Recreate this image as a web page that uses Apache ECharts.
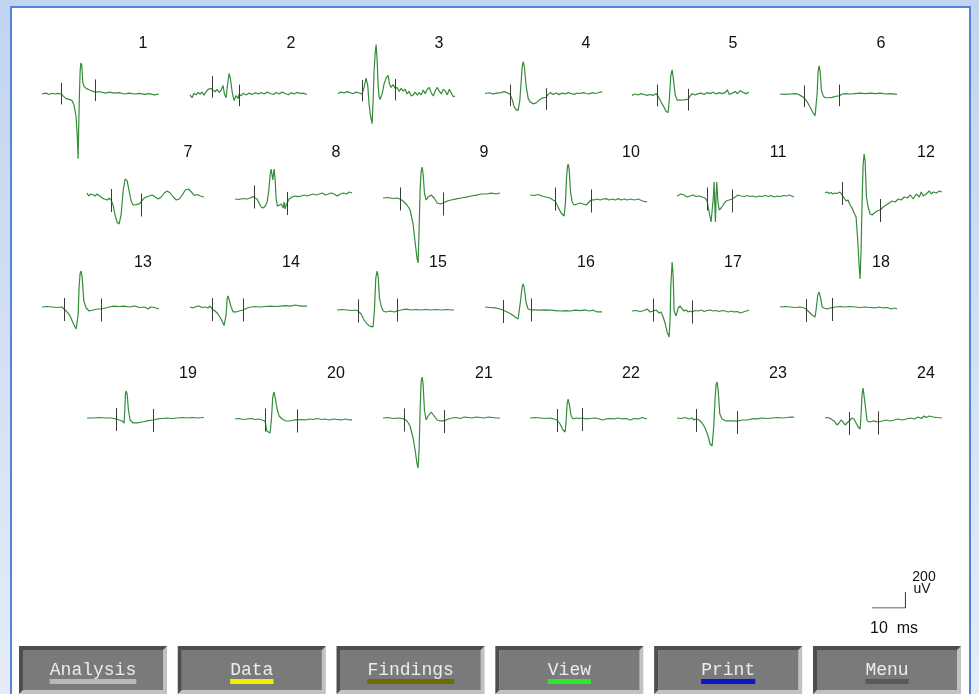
<!DOCTYPE html>
<html>
<head>
<meta charset="utf-8">
<title>MUP</title>
<script src="https://cdn.jsdelivr.net/npm/echarts@6/dist/echarts.min.js"></script>
<style>
html,body{margin:0;padding:0;background:#c6d7f0;overflow:hidden;}
#main{width:979px;height:694px;}
</style>
</head>
<body>
<div id="main"></div>
<script>
// motor unit potentials, [ms, uV]
var mu1 = [[0,0],[1.2,12],[2.1,-6],[3,10],[3.9,0],[4.8,8],[5.7,0],[6.3,-25],[7.2,-62],[8.4,-75],[9,-90],[9.6,-150],[10.2,-300],[10.6,-600],[10.8,-862],[11,-400],[11.2,0],[11.4,300],[11.6,412],[11.9,380],[12.2,150],[12.6,100],[13.2,75],[14.4,50],[15.9,25],[17.4,30],[18.9,12],[20.1,25],[21.6,12],[23.1,18],[24.6,0],[26.1,12],[27.6,0],[29.1,8],[30.6,-6],[32.1,6],[33.6,-12],[35,0]];
var mu2 = [[0,-12],[0.6,-50],[1.2,10],[1.8,-12],[2.4,20],[3,0],[3.6,25],[4.2,-15],[4.8,30],[5.4,62],[5.8,40],[6.3,75],[6.9,50],[7.5,30],[8.1,62],[8.7,20],[9.3,50],[9.9,112],[10.3,0],[10.8,-50],[11.3,150],[11.7,275],[12.1,200],[12.6,30],[13.2,-88],[13.8,-20],[14.4,-62],[14.7,0],[15.3,-25],[15.9,10],[16.8,-12],[17.7,12],[18.6,-6],[19.5,18],[20.4,0],[21.3,20],[22.2,0],[23.1,25],[24,6],[24.9,-6],[25.8,20],[26.7,0],[27.6,25],[28.5,6],[29.4,-10],[30.3,18],[31.2,0],[32.1,22],[33,6],[33.9,12],[35,-6]];
var mu3 = [[0,-6],[0.9,12],[1.8,0],[2.7,18],[3.6,6],[4.5,-10],[5.4,12],[6.3,0],[7.2,-12],[7.8,75],[8.4,200],[8.9,100],[9.3,-150],[9.7,-300],[10.2,-412],[10.5,-100],[10.8,300],[11.1,520],[11.4,650],[11.7,450],[12,100],[12.3,-50],[12.6,-88],[13.2,-12],[13.8,125],[14.4,200],[15,238],[15.4,120],[15.9,75],[16.5,112],[17.1,62],[17.7,75],[18.3,20],[18.9,62],[19.5,25],[20.1,50],[20.7,-12],[21.3,25],[21.9,-40],[22.5,-25],[23.1,12],[23.7,-30],[24.3,6],[24.9,-25],[25.5,40],[26.1,-10],[26.7,50],[27.3,75],[27.9,0],[28.5,-40],[29.1,30],[29.7,75],[30.3,25],[30.9,-12],[31.5,50],[32.1,25],[32.7,-25],[33.3,50],[33.9,0],[34.5,-50],[35,-40]];
var mu4 = [[0,0],[1.2,10],[2.4,-6],[3.6,6],[4.8,12],[5.7,25],[6.6,12],[7.5,-12],[8.1,-75],[8.7,-175],[9.3,-215],[9.9,-225],[10.4,-100],[10.8,150],[11.1,350],[11.4,425],[11.8,350],[12.3,100],[12.9,-62],[13.5,-112],[14.4,-138],[15.3,-125],[16.2,-88],[17.1,-62],[18.3,-50],[18.9,-12],[19.5,12],[20.4,-12],[21.3,6],[22.2,-15],[23.1,6],[24,-6],[24.9,12],[25.8,0],[26.7,-12],[27.6,6],[28.5,0],[29.4,12],[30.3,0],[31.2,-6],[32.1,12],[33,0],[33.9,10],[35,25]];
var mu5 = [[0,-12],[0.9,6],[1.8,-6],[2.7,12],[3.6,0],[4.5,-12],[5.4,0],[6.3,-12],[7.2,12],[7.8,-20],[8.7,-100],[9.6,-170],[10.2,-225],[10.8,-238],[11.2,-50],[11.6,250],[12,325],[12.4,200],[12.9,0],[13.5,-75],[14.4,-75],[15.6,-70],[16.8,-62],[17.4,-20],[18,12],[18.9,-6],[19.8,12],[20.7,18],[21.6,0],[22.5,25],[23.4,12],[24.3,30],[25.2,6],[26.1,25],[27,12],[27.9,25],[28.5,62],[29.1,0],[30,18],[30.9,40],[31.5,12],[32.4,50],[33.3,25],[34.2,12],[35,30]];
var mu6 = [[0,0],[1.5,-6],[3,0],[4.5,6],[5.4,0],[6.3,-25],[7.2,-50],[8.1,-100],[9,-175],[9.9,-250],[10.5,-288],[10.8,-275],[11.1,0],[11.4,300],[11.7,375],[12,300],[12.4,50],[12.9,-25],[13.5,-50],[14.4,-50],[15.6,-45],[16.8,-30],[17.7,-25],[18.6,0],[19.5,6],[21,0],[22.5,6],[24,12],[25.5,6],[27,12],[28.5,6],[30,12],[31.5,0],[33,6],[35,-6]];
var mu7 = [[0,25],[0.5,-12],[1.2,12],[1.8,0],[2.4,-12],[3,12],[3.6,-6],[4.2,-25],[5.1,-50],[6,-62],[6.6,-40],[7.2,-62],[7.8,-125],[8.4,-250],[9,-340],[9.6,-362],[10.2,-250],[10.8,50],[11.4,200],[11.7,212],[12,180],[12.6,50],[13.2,-75],[13.8,-125],[14.7,-120],[15.6,-112],[16.2,-88],[16.8,-50],[17.7,-25],[18.6,-12],[19.5,0],[20.4,-25],[21.3,-50],[22.2,-25],[23.1,25],[24,50],[24.9,25],[25.8,-25],[26.7,-62],[27.6,-50],[28.5,0],[29.4,62],[30.3,75],[31.2,40],[32.1,-6],[33,6],[33.9,-12],[35,-25]];
var mu8 = [[0,0],[1.2,-6],[2.4,6],[3.6,0],[4.5,12],[5.4,30],[6,12],[6.6,0],[7.2,-50],[7.8,-100],[8.4,-112],[9,-90],[9.6,-40],[10.1,100],[10.5,300],[10.8,375],[11.1,300],[11.3,237],[11.5,300],[11.7,375],[12,250],[12.3,0],[12.7,-90],[13.2,-100],[13.8,-62],[14.4,-112],[14.7,-40],[15,-125],[15.3,-75],[15.6,-50],[16.2,0],[17.1,25],[18,37],[18.9,30],[19.8,37],[20.7,50],[21.6,37],[22.5,50],[23.4,62],[24.3,50],[25.2,62],[26.1,75],[27,50],[27.9,62],[28.8,75],[29.7,62],[30.6,37],[31.5,62],[32.4,75],[33.3,62],[34.2,87],[35,75]];
var mu9 = [[0,0],[1.5,6],[3,-6],[4.2,0],[5.1,-12],[6,-37],[7.2,-87],[8.1,-150],[9,-325],[9.6,-550],[10.2,-760],[10.5,-812],[10.8,-400],[11.1,100],[11.4,330],[11.7,387],[12,300],[12.4,62],[12.9,-25],[13.5,12],[14.4,37],[15.3,0],[16.2,-62],[17.1,-75],[18,-62],[19.2,-37],[20.4,-25],[21.9,-12],[23.4,0],[24.9,12],[26.4,25],[27.9,37],[29.4,50],[30.9,50],[32.4,62],[33.9,50],[35,62]];
var mu10 = [[0,0],[1.2,-6],[2.4,6],[3.6,-12],[4.8,-25],[6,-37],[6.9,-62],[7.5,-75],[8.4,-150],[9.3,-225],[10.2,-262],[10.6,-100],[10.9,200],[11.2,350],[11.4,387],[11.7,330],[12.1,50],[12.6,-87],[13.2,-125],[14.1,-112],[15,-100],[15.9,-112],[16.8,-125],[17.7,-87],[18.3,-62],[19.2,-62],[20.1,-50],[21,-62],[21.9,-50],[22.8,-45],[23.7,-62],[24.6,-50],[25.5,-62],[26.4,-45],[27.3,-62],[28.2,-50],[29.1,-62],[30,-50],[31.2,-62],[32.4,-50],[33.6,-75],[35,-87]];
var mu11 = [[0,0],[1.2,25],[2.1,12],[3,-12],[3.9,0],[4.8,12],[5.7,-6],[6.6,0],[7.5,-12],[8.4,-25],[9,-62],[9.6,-200],[10.2,-325],[10.6,-325],[10.9,0],[11.1,175],[11.3,-100],[11.5,-325],[11.7,0],[11.9,175],[12.2,-50],[12.6,-175],[13.2,-150],[13.8,-112],[14.7,-62],[15.6,-50],[16.5,-37],[17.4,-12],[18.3,12],[19.2,0],[20.1,-6],[21,6],[21.9,-6],[22.8,0],[23.7,-12],[24.6,0],[25.5,-6],[26.4,6],[27.3,-6],[28.2,6],[29.1,-12],[30,0],[30.9,-6],[31.8,6],[32.7,0],[33.6,12],[35,-12]];
var mu12 = [[0,0],[0.6,12],[1.2,-6],[1.8,6],[2.4,-12],[3,0],[3.6,-6],[4.5,12],[5.1,-25],[5.7,-62],[6.3,-100],[6.9,-87],[7.5,-150],[8.1,-187],[8.7,-250],[9.3,-300],[9.8,-600],[10.2,-900],[10.5,-1075],[10.8,-700],[11.1,-100],[11.4,350],[11.7,487],[12,400],[12.4,-50],[12.9,-175],[13.5,-262],[14.1,-275],[14.7,-250],[15.6,-225],[16.5,-212],[17.4,-175],[18.3,-150],[19.2,-125],[20.1,-100],[21,-112],[21.9,-75],[22.8,-87],[23.7,-50],[24.6,-62],[25.5,-25],[26.4,-75],[27.3,-12],[28.2,-50],[28.8,12],[29.4,-37],[30.3,-12],[31.2,25],[31.8,-12],[32.4,12],[33.3,0],[34.2,25],[35,12]];
var mu13 = [[0,0],[1.5,6],[3,0],[4.5,-6],[6,0],[6.6,-25],[7.5,-62],[8.4,-112],[9.3,-200],[10.2,-275],[10.5,-288],[10.8,-100],[11.1,250],[11.4,420],[11.7,450],[12,380],[12.5,80],[13.2,-12],[14.1,-50],[15.3,-37],[16.5,-25],[17.7,-25],[18.9,-12],[20.1,0],[21.6,12],[23.1,6],[24.6,12],[26.1,0],[27.6,12],[29.1,-6],[30.6,0],[31.8,-25],[32.4,0],[33.6,-6],[35,-25]];
var mu14 = [[0,0],[0.9,-12],[1.8,6],[2.7,12],[3.6,-6],[4.5,0],[5.4,-12],[6,12],[6.6,-25],[7.5,-50],[8.4,-87],[9.3,-150],[10.2,-230],[10.5,-238],[10.8,-100],[11.1,100],[11.4,138],[11.8,125],[12.3,0],[12.9,-62],[13.8,-62],[14.7,-50],[15.9,-37],[17.1,-12],[18.3,0],[19.5,6],[21,0],[22.5,6],[24,12],[25.5,6],[27,12],[28.5,18],[30,12],[31.5,25],[33,12],[35,12]];
var mu15 = [[0,0],[1.5,6],[3,0],[4.5,-6],[5.7,0],[6.3,-12],[7.2,-50],[8.1,-125],[9,-175],[9.9,-205],[10.8,-212],[11.2,0],[11.6,400],[12,487],[12.3,420],[12.7,150],[13.2,50],[13.8,-12],[14.7,-25],[15.9,-12],[17.1,-25],[18,-12],[19.2,0],[20.7,12],[22.2,0],[23.7,6],[25.2,0],[26.7,6],[28.2,0],[29.7,6],[31.2,0],[32.7,6],[34.2,0],[35,0]];
var mu16 = [[0,0],[1.5,-6],[3,-12],[4.5,-25],[5.4,-37],[6.6,-62],[7.8,-87],[9,-125],[9.9,-150],[10.3,-125],[10.7,100],[11.1,250],[11.4,287],[11.7,250],[12.3,50],[12.9,-25],[13.8,-37],[15,-37],[16.5,-40],[18,-37],[19.5,-40],[21,-45],[22.5,-50],[24,-45],[25.5,-50],[27,-40],[28.5,-45],[30,-37],[31.2,-50],[32.4,-40],[33.6,-62],[35,-62]];
var mu17 = [[0,0],[1.2,6],[2.4,-6],[3.6,6],[4.5,25],[5.4,-12],[6.3,0],[7.2,12],[8.1,-25],[8.7,-12],[9.3,-75],[9.9,-150],[10.5,-262],[11.1,-325],[11.4,-100],[11.6,300],[12,612],[12.3,450],[12.6,0],[13.2,-62],[13.8,37],[14.4,62],[15,25],[15.6,0],[16.2,12],[16.8,-12],[17.4,0],[18,-12],[18.9,6],[19.8,0],[20.7,12],[21.6,-6],[22.5,6],[23.4,12],[24.3,0],[25.2,6],[26.1,-6],[27,6],[27.9,0],[28.8,-12],[29.7,0],[30.6,-12],[31.5,-6],[32.4,-25],[33.3,-12],[34.2,0],[35,12]];
var mu18 = [[0,0],[1.5,6],[3,0],[4.5,-6],[6,0],[6.9,-6],[7.8,-25],[8.7,-62],[9.6,-100],[10.5,-125],[10.9,0],[11.3,150],[11.7,187],[12.1,120],[12.6,0],[13.2,-12],[14.1,-25],[15,-12],[15.6,-12],[16.5,0],[18,6],[19.5,0],[21,6],[22.5,0],[24,-6],[25.5,0],[27,-6],[28.5,-12],[29.7,0],[30.9,-12],[32.1,-6],[33.3,-25],[34.2,-12],[35,-25]];
var mu19 = [[0,0],[1.8,0],[3.6,6],[5.4,0],[7.2,0],[8.7,-12],[9.6,-25],[10.5,-37],[11.1,-62],[11.3,100],[11.5,300],[11.7,337],[12,300],[12.4,100],[12.9,-25],[13.8,-62],[15,-62],[16.5,-50],[18,-37],[19.8,-25],[21,-12],[22.5,-6],[24,0],[25.5,-6],[27,0],[28.5,6],[30,0],[31.5,6],[33,0],[35,6]];
var mu20 = [[0,0],[1.2,6],[2.4,-6],[3.6,0],[4.8,6],[6,-6],[7.2,0],[8.1,-12],[9,-25],[9.5,-150],[10,-125],[10.5,-175],[10.9,0],[11.3,280],[11.7,337],[12.1,250],[12.6,125],[13.2,37],[14.1,0],[15.3,-25],[16.5,-25],[17.7,-12],[18.6,-12],[19.8,-6],[21,-12],[22.2,0],[23.4,-6],[24.6,6],[25.8,-6],[27,0],[28.2,-12],[29.4,0],[30.6,-6],[31.8,-12],[33,0],[34.2,-12],[35,-12]];
var mu21 = [[0,0],[1.5,6],[3,-6],[4.5,0],[6.3,-12],[7.2,-37],[8.1,-100],[9,-250],[9.6,-400],[10.2,-580],[10.5,-625],[10.8,-400],[11.1,100],[11.4,450],[11.7,512],[12,420],[12.4,100],[12.9,-25],[13.5,25],[14.4,75],[15.3,25],[16.2,-25],[17.1,-37],[18.3,-37],[19.5,-12],[20.7,0],[21.9,6],[23.1,-6],[24.3,12],[25.5,6],[26.7,0],[27.9,12],[29.1,6],[30.3,0],[31.5,12],[32.7,6],[33.9,0],[35,0]];
var mu22 = [[0,0],[1.5,6],[3,0],[4.5,-6],[6,0],[7.2,-12],[8.1,-25],[9,-75],[9.9,-150],[10.5,-175],[10.8,-50],[11.1,180],[11.4,237],[11.8,160],[12.3,25],[12.9,-12],[13.8,0],[14.7,-6],[15.6,0],[16.8,-12],[18,-6],[19.2,0],[20.4,-6],[21.6,-25],[22.8,-12],[24,-6],[25.2,-12],[26.4,0],[27.6,-12],[28.8,-6],[30,-25],[31.2,-6],[32.4,-12],[33.6,6],[35,-12]];
var mu23 = [[0,0],[1.2,-6],[2.4,6],[3.6,-12],[4.5,0],[5.1,-25],[5.7,-12],[6.6,-25],[7.5,-62],[8.4,-125],[9.3,-225],[9.9,-325],[10.5,-350],[11,-100],[11.4,250],[11.7,420],[12,450],[12.3,350],[12.8,50],[13.5,-12],[14.7,-37],[16.2,-37],[18,-40],[19.5,-25],[21,-25],[22.5,-12],[24,-12],[25.5,0],[27,-6],[28.5,0],[30,6],[31.5,0],[33,6],[34,12],[35,12]];
var mu24 = [[0,0],[0.9,6],[1.8,-12],[2.7,-37],[3.6,-87],[4.2,-62],[4.8,-25],[5.4,-50],[6,-87],[6.6,-62],[7.2,-37],[8.1,0],[8.7,-12],[9.3,-62],[9.9,-112],[10.5,-137],[10.8,50],[11.1,300],[11.4,375],[11.8,350],[12.2,100],[12.6,-37],[13.5,-50],[14.4,-37],[15.9,-50],[17.1,-37],[18.3,-25],[19.5,-37],[20.7,-25],[21.9,-12],[23.1,-25],[24.3,-12],[25.5,0],[26.7,-12],[27.9,12],[28.8,-6],[29.7,25],[30.3,6],[31.2,25],[32.4,12],[33.6,6],[35,0]];

// cursor markers per MUP: [ms, level uV]
var markers = [
    [[5.7,6],[15.9,50]], [[6.6,94],[14.7,-19]], [[7.2,31],[17.1,44]], [[7.5,-25],[18.3,-75]], [[7.5,-12],[16.8,-69]], [[7.2,-31],[17.7,-19]],
    [[7.2,-69],[16.2,-125]], [[5.7,25],[15.6,-56]], [[5.1,-12],[18,-75]], [[7.5,-50],[18.3,-75]], [[9,-37],[16.5,-62]], [[5.1,-6],[16.5,-219]],
    [[6.6,-31],[17.7,-37]], [[6.6,-31],[15.9,-37]], [[6.3,-12],[18,0]], [[5.4,-56],[13.8,-37]], [[6.3,12],[18,-12]], [[7.8,-44],[15.6,-31]],
    [[8.7,-19],[19.8,-31]], [[9,-12],[18.6,-25]], [[6.3,-25],[18.3,-44]], [[8.1,-31],[15.6,-19]], [[5.7,-31],[18,-56]], [[7.2,-69],[15.9,-62]]
];
var traces = [mu1,mu2,mu3,mu4,mu5,mu6,mu7,mu8,mu9,mu10,mu11,mu12,mu13,mu14,mu15,mu16,mu17,mu18,mu19,mu20,mu21,mu22,mu23,mu24];
var labels = ['1','2','3','4','5','6','7','8','9','10','11','12','13','14','15','16','17','18','19','20','21','22','23','24'];
var buttons = ['Analysis','Data','Findings','View','Print','Menu'];
var scaleMs = 10, scaleUv = 200;

// layout: left edge and baseline of each trace
var pos = [
    [42,88],[190,88],[338,86],[485,87],[632,89],[780,88],
    [87,195],[235,199],[383,198],[530,195],[677,196],[825,193],
    [42,307],[190,307],[337,310],[485,307],[632,311],[780,307],
    [87,418],[235,419],[383,418],[530,418],[677,418],[825,418]
];
var labelRowY = [44, 153, 263, 374];
var SPAN = 35, AMP = 1250, W = 117, H = 200, TICK = 144;
var btnBars = ['#b8b8b8','#f0f000','#6e6e00','#2ee62e','#0c18c8','#5a5a5a'];

var myChart = echarts.init(document.getElementById('main'));

var grids = [], xAxes = [], yAxes = [], series = [];
var graphics = [
    {type:'rect', z:-10, shape:{x:0,y:0,width:979,height:694},
        style:{fill:new echarts.graphic.LinearGradient(0,0,0,1,[{offset:0,color:'#c2d4ef'},{offset:1,color:'#e4ecf8'}])}},
    {type:'rect', z:-9, shape:{x:11,y:7,width:959,height:700}, style:{fill:'#ffffff', stroke:'#4f86dc', lineWidth:2}}
];

for (var i = 0; i < traces.length; i++) {
    grids.push({left: pos[i][0], top: pos[i][1] - H / 2, width: W, height: H});
    xAxes.push({type:'value', gridIndex:i, min:0, max:SPAN, show:false});
    yAxes.push({type:'value', gridIndex:i, min:-AMP, max:AMP, show:false});
    series.push({
        type:'line', xAxisIndex:i, yAxisIndex:i, data:traces[i],
        symbol:'none', clip:false,
        lineStyle:{color:'#348c3a', width:1.2},
        markLine:{
            silent:true, symbol:['none','none'], label:{show:false},
            lineStyle:{color:'#3a3a3a', width:1, type:'solid'},
            data: markers[i].map(function (m) {
                return [{coord:[m[0], m[1] - TICK]}, {coord:[m[0], m[1] + TICK]}];
            })
        }
    });
    graphics.push({type:'text', x: pos[i][0] + 101, y: labelRowY[Math.floor(i / 6)],
        style:{text:labels[i], font:'16px "Liberation Sans", Arial, sans-serif', fill:'#111',
            textAlign:'center', textVerticalAlign:'middle'}});
}

// scale bar
var n = traces.length;
grids.push({left:872, top:592, width: W * scaleMs / SPAN, height: H * scaleUv / (2 * AMP)});
xAxes.push({type:'value', gridIndex:n, min:0, max:scaleMs, show:false});
yAxes.push({type:'value', gridIndex:n, min:0, max:scaleUv, show:false});
series.push({type:'line', xAxisIndex:n, yAxisIndex:n, symbol:'none',
    data:[[0,0],[scaleMs,0],[scaleMs,scaleUv]], lineStyle:{color:'#333', width:1}});
graphics.push({type:'text', x:924, y:577, style:{text:String(scaleUv), font:'14px "Liberation Sans", Arial', fill:'#111', textAlign:'center', textVerticalAlign:'middle'}});
graphics.push({type:'text', x:922, y:589, style:{text:'uV', font:'14px "Liberation Sans", Arial', fill:'#111', textAlign:'center', textVerticalAlign:'middle'}});
graphics.push({type:'text', x:894, y:629, style:{text:scaleMs + '  ms', font:'16px "Liberation Sans", Arial', fill:'#111', textAlign:'center', textVerticalAlign:'middle'}});

// buttons
for (var b = 0; b < buttons.length; b++) {
    var bx = 19 + b * 158.8, by = 646, bw = 148, bh = 48, e = 4;
    graphics.push({type:'rect', z:-5, shape:{x:bx, y:by, width:bw, height:bh}, style:{fill:'#c2c2c2'}});
    graphics.push({type:'polygon', z:-4, shape:{points:[[bx,by],[bx+bw,by],[bx+bw-e,by+e],[bx+e,by+e],[bx+e,by+bh-e],[bx,by+bh]]}, style:{fill:'#4e4e4e'}});
    graphics.push({type:'rect', z:-3, shape:{x:bx+e, y:by+e, width:bw-2*e, height:bh-2*e}, style:{fill:'#7a7a7a'}});
    var tw = buttons[b].length * 10.84;
    graphics.push({type:'rect', z:-2, shape:{x:bx + bw/2 - tw/2, y:679, width:tw, height:5}, style:{fill:btnBars[b]}});
    graphics.push({type:'text', x:bx + bw/2, y:670, style:{text:buttons[b], font:'18px "Liberation Mono", monospace', fill:'#ececec', textAlign:'center', textVerticalAlign:'middle'}});
}

var option = {
    animation: false,
    grid: grids,
    xAxis: xAxes,
    yAxis: yAxes,
    graphic: graphics,
    series: series
};

myChart.setOption(option);
</script>
</body>
</html>
